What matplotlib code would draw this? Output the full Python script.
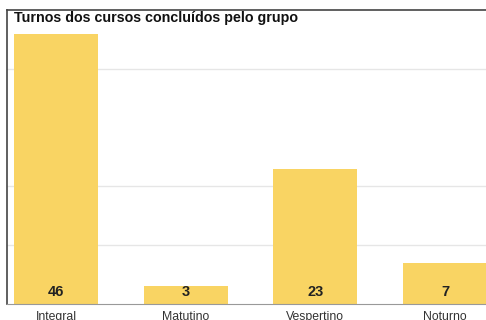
import matplotlib
matplotlib.use("Agg")
from matplotlib import pyplot as plt

plt.rcParams["font.family"] = ["Liberation Sans", "DejaVu Sans"]

# turnos e quantidade de cursos
turnos = ["Integral", "Matutino", "Vespertino", "Noturno"]
cursos = [46, 3, 23, 7]
grade = [10, 20, 40]

fig = plt.figure(figsize=(4.86, 3.2), dpi=100)
ax = fig.add_axes([7 / 486, 16 / 320, 1.0, 294 / 320])

x = list(range(len(turnos)))
ax.bar(x, cursos, width=0.648, color="#F9D463", zorder=2)

for xi, v in zip(x, cursos):
    ax.text(xi, 0.8, str(v), ha="center", va="bottom",
            fontsize=10.5, fontweight="bold", color="#222222", zorder=3)

ax.set_xlim(-0.378, -0.378 + 486 / 129.7)
ax.set_ylim(0, 50)
ax.set_yticks(grade)
ax.yaxis.grid(True, color="#E6E6E6", linewidth=1, zorder=0)
ax.tick_params(axis="y", left=False, labelleft=False)
ax.set_xticks(x)
ax.set_xticklabels(turnos, fontsize=8.8, color="#333333")
ax.tick_params(axis="x", length=0, pad=5)

ax.spines["top"].set_color("#444444")
ax.spines["left"].set_color("#444444")
ax.spines["top"].set_linewidth(1.2)
ax.spines["left"].set_linewidth(1.2)
ax.spines["bottom"].set_color("#999999")
ax.spines["right"].set_visible(False)

ax.text(0.014, 0.997, "Turnos dos cursos concluídos pelo grupo",
        transform=ax.transAxes, ha="left", va="top",
        fontsize=10.3, fontweight="bold", color="#111111")

fig.savefig("out.png", dpi=100)
